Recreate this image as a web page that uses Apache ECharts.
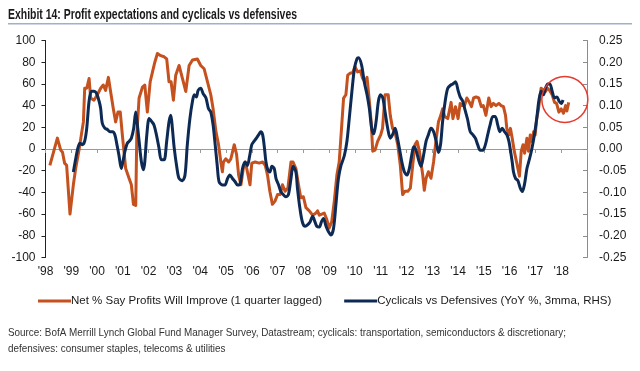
<!DOCTYPE html>
<html><head><meta charset="utf-8">
<script src="https://cdn.jsdelivr.net/npm/echarts@6/dist/echarts.min.js"></script>
<style>html,body{margin:0;padding:0;background:#fff}#c{width:640px;height:371px}</style>
</head><body><div id="c"></div>
<script>
const titleText = 'Exhibit 14: Profit expectations and cyclicals vs defensives';
const seriesNames = ['Net % Say Profits Will Improve (1 quarter lagged)', 'Cyclicals vs Defensives (YoY %, 3mma, RHS)'];
const sourceLines = [
  'Source: BofA Merrill Lynch Global Fund Manager Survey, Datastream; cyclicals: transportation, semiconductors & discretionary;',
  'defensives: consumer staples, telecoms & utilities'
];
const yearLabels = ["'98","'99","'00","'01","'02","'03","'04","'05","'06","'07","'08","'09","'10","'11","'12","'13","'14","'15","'16","'17","'18"];
const xRange = [1998, 2019];
const leftRange = [-100, 100, 20];
const rightRange = [-0.25, 0.25, 0.05];

const profitDates = [
1998.17,1998.46,1998.59,1998.66,1998.74,1998.82,1998.95,1999.08,1999.17,1999.30,
1999.39,1999.47,1999.52,1999.60,1999.69,1999.75,1999.88,2000.01,2000.14,2000.24,
2000.33,2000.44,2000.53,2000.63,2000.72,2000.81,2000.90,2000.98,2001.11,2001.24,
2001.33,2001.41,2001.50,2001.54,2001.63,2001.76,2001.85,2001.95,2002.06,2002.15,
2002.24,2002.34,2002.47,2002.60,2002.70,2002.79,2002.87,2002.96,2003.05,2003.18,
2003.31,2003.44,2003.57,2003.70,2003.89,2004.02,2004.15,2004.28,2004.41,2004.50,
2004.61,2004.71,2004.80,2004.86,2004.90,2004.99,2005.10,2005.19,2005.32,2005.41,
2005.49,2005.58,2005.67,2005.75,2005.83,2005.93,2006.00,2006.13,2006.29,2006.42,
2006.52,2006.61,2006.70,2006.80,2006.90,2007.00,2007.10,2007.19,2007.29,2007.40,
2007.52,2007.60,2007.71,2007.81,2007.90,2008.00,2008.10,2008.23,2008.36,2008.49,
2008.55,2008.62,2008.68,2008.81,2008.91,2009.00,2009.10,2009.20,2009.30,2009.39,
2009.48,2009.56,2009.65,2009.72,2009.82,2009.91,2010.00,2010.10,2010.21,2010.30,
2010.39,2010.47,2010.56,2010.63,2010.69,2010.78,2010.88,2011.00,2011.07,2011.17,
2011.24,2011.29,2011.37,2011.46,2011.55,2011.66,2011.76,2011.85,2011.94,2012.05,
2012.15,2012.24,2012.33,2012.41,2012.50,2012.56,2012.63,2012.69,2012.76,2012.85,
2012.95,2013.05,2013.14,2013.24,2013.33,2013.40,2013.48,2013.60,2013.73,2013.80,
2013.90,2014.00,2014.08,2014.16,2014.25,2014.34,2014.44,2014.52,2014.60,2014.70,
2014.80,2014.90,2014.98,2015.08,2015.19,2015.28,2015.37,2015.47,2015.58,2015.67,
2015.76,2015.84,2015.89,2015.97,2016.03,2016.10,2016.18,2016.25,2016.32,2016.38,
2016.45,2016.52,2016.58,2016.67,2016.73,2016.80,2016.87,2016.93,2016.99,2017.05,
2017.12,2017.22,2017.28,2017.39,2017.47,2017.55,2017.65,2017.74,2017.82,2017.91,
2018.00,2018.09,2018.17,2018.22,2018.29];
const profitValues = [
-15,10,-1,-3,-13,-15,-60,-33,-18,-1,
13,25,56,56,65,47,45,50,56,59,
54,66,52,37,25,34,34,13,-18,-27,
-33,-51,-52,13,47,57,59,34,62,71,
80,88,86,85,83,62,62,45,68,77,
65,53,77,82,83,77,74,62,50,37,
16,4,-12,-21,-12,-9,-12,-9,4,-5,
-24,-33,-18,-12,-21,-33,-13,-12,-13,-12,
-15,-24,-39,-51,-48,-42,-42,-33,-39,-36,
-12,-12,-18,-33,-45,-44,-54,-57,-61,-59,
-57,-61,-62,-59,-65,-73,-67,-48,-24,-12,
19,47,50,68,70,70,76,71,72,65,
62,66,44,25,-2,-1,7,13,19,50,
51,50,31,19,16,4,-15,-42,-39,-39,
-36,-15,4,7,-2,-1,-24,-38,-27,-21,
-27,-12,7,25,31,37,30,28,43,28,
39,28,42,40,40,47,43,39,47,48,
47,39,40,31,47,39,42,40,42,40,
39,31,19,13,19,10,-2,-2,-18,-25,
-2,4,-4,10,-2,13,7,16,13,28,
37,56,57,53,56,54,50,43,42,34,
37,33,40,35,43];

const cycDates = [
1999.08,1999.17,1999.26,1999.34,1999.43,1999.52,1999.60,1999.69,1999.78,1999.88,
1999.98,2000.08,2000.14,2000.20,2000.30,2000.40,2000.50,2000.60,2000.69,2000.77,
2000.85,2000.94,2001.00,2001.07,2001.17,2001.25,2001.33,2001.42,2001.50,2001.55,
2001.63,2001.72,2001.80,2001.85,2001.93,2002.02,2002.12,2002.21,2002.30,2002.40,
2002.49,2002.60,2002.70,2002.79,2002.86,2002.92,2002.99,2003.10,2003.18,2003.31,
2003.41,2003.50,2003.60,2003.70,2003.77,2003.85,2003.92,2004.02,2004.11,2004.22,
2004.32,2004.41,2004.50,2004.58,2004.66,2004.73,2004.86,2004.96,2005.06,2005.15,
2005.25,2005.35,2005.45,2005.55,2005.64,2005.74,2005.83,2005.92,2006.00,2006.09,
2006.18,2006.29,2006.35,2006.42,2006.49,2006.55,2006.62,2006.70,2006.78,2006.87,
2006.94,2007.04,2007.13,2007.22,2007.32,2007.42,2007.52,2007.60,2007.71,2007.77,
2007.87,2007.97,2008.07,2008.16,2008.26,2008.36,2008.45,2008.52,2008.62,2008.70,
2008.78,2008.88,2008.97,2009.07,2009.17,2009.27,2009.36,2009.46,2009.59,2009.69,
2009.78,2009.87,2009.98,2010.08,2010.14,2010.26,2010.36,2010.47,2010.56,2010.65,
2010.73,2010.82,2010.91,2010.99,2011.08,2011.17,2011.27,2011.37,2011.46,2011.56,
2011.64,2011.72,2011.82,2011.92,2012.02,2012.11,2012.20,2012.28,2012.37,2012.46,
2012.56,2012.66,2012.76,2012.85,2012.95,2013.05,2013.15,2013.24,2013.32,2013.40,
2013.50,2013.60,2013.73,2013.80,2013.90,2014.00,2014.08,2014.18,2014.27,2014.37,
2014.47,2014.57,2014.67,2014.76,2014.86,2014.96,2015.06,2015.15,2015.24,2015.35,
2015.44,2015.54,2015.62,2015.71,2015.80,2015.89,2015.97,2016.03,2016.10,2016.15,
2016.23,2016.32,2016.41,2016.49,2016.58,2016.67,2016.77,2016.87,2016.96,2017.05,
2017.13,2017.22,2017.31,2017.39,2017.48,2017.56,2017.65,2017.74,2017.83,2017.92,
2018.00,2018.07];
const cycValues = [
-0.053,-0.023,0.003,0.013,0.010,0.018,0.048,0.110,0.133,0.133,
0.128,0.110,0.093,0.060,0.048,0.045,0.040,0.040,0.033,0.010,
-0.015,-0.045,-0.030,-0.008,0.013,0.018,0.025,0.048,0.085,0.063,
0.018,-0.030,-0.048,-0.030,0.033,0.070,0.063,0.055,0.033,0.003,
-0.025,-0.025,0.018,0.063,0.078,0.048,0.003,-0.045,-0.068,-0.073,
-0.060,0.010,0.070,0.110,0.125,0.120,0.135,0.140,0.128,0.118,
0.093,0.085,0.055,0.010,-0.038,-0.075,-0.083,-0.083,-0.068,-0.060,
-0.068,-0.075,-0.083,-0.080,-0.045,-0.030,-0.038,-0.015,0.010,0.018,
0.025,0.035,0.040,0.033,0.003,-0.030,-0.048,-0.053,-0.040,-0.045,
-0.068,-0.083,-0.098,-0.105,-0.110,-0.105,-0.068,-0.040,-0.053,-0.090,
-0.138,-0.170,-0.178,-0.175,-0.168,-0.155,-0.168,-0.178,-0.180,-0.168,
-0.160,-0.178,-0.190,-0.198,-0.183,-0.123,-0.068,-0.038,-0.015,0.018,
0.070,0.125,0.185,0.208,0.210,0.193,0.155,0.125,0.093,0.048,
0.035,0.063,0.110,0.125,0.118,0.085,0.048,0.025,0.033,0.048,
0.028,0.003,-0.030,-0.053,-0.060,-0.045,-0.015,0.005,-0.003,-0.023,
-0.040,-0.015,0.018,0.033,0.048,0.040,0.018,-0.008,0.010,0.063,
0.110,0.140,0.148,0.150,0.155,0.135,0.120,0.110,0.090,0.068,
0.040,0.033,0.025,0.010,-0.003,-0.003,0.010,0.033,0.055,0.075,
0.075,0.055,0.040,0.048,0.040,0.033,0.018,-0.003,-0.030,-0.053,
-0.068,-0.073,-0.090,-0.098,-0.080,-0.045,-0.023,0.003,0.033,0.070,
0.110,0.133,0.125,0.140,0.150,0.150,0.133,0.118,0.120,0.110,
0.105,0.113];

const ORANGE = '#C4511E';
const NAVY = '#0D2A55';
const FONT = '"Liberation Sans", Arial, Helvetica, sans-serif';

function zip(a, b) { return a.map((d, i) => [d, b[i]]); }
function fitScale(text, font, target) {
  const ctx = document.createElement('canvas').getContext('2d');
  ctx.font = font;
  return target / ctx.measureText(text).width;
}

const chart = echarts.init(document.getElementById('c'), null, { renderer: 'canvas' });

const titleFont = 'bold 15px ' + FONT;
const titleScale = fitScale(titleText, titleFont, 289);
const srcFont = '11px ' + FONT;
const srcScale = fitScale(sourceLines[0], srcFont, 558);

const option = {
  animation: false,
  backgroundColor: '#fff',
  grid: { left: 45.5, right: 53, top: 40.5, bottom: 113.5, containLabel: false },
  legend: {
    top: 295, left: 38, width: 600, padding: 0, itemGap: 22, itemWidth: 33, itemHeight: 3, icon: 'rect',
    textStyle: { fontFamily: FONT, fontSize: 11.5, color: '#1a1a1a', padding: [0, 0, 0, -5] },
    data: seriesNames
  },
  xAxis: [
    {
      type: 'value', min: xRange[0], max: xRange[1], interval: 1, position: 'bottom',
      axisLine: { show: false, onZero: false }, axisTick: { show: false }, splitLine: { show: false },
      axisLabel: {
        margin: 8, fontFamily: FONT, fontSize: 12, color: '#1a1a1a',
        formatter: v => yearLabels[Math.round(v - xRange[0])] || ''
      }
    },
    {
      type: 'value', min: xRange[0], max: xRange[1], interval: 1, position: 'top',
      axisLine: { show: true, onZero: true, onZeroAxisIndex: 0, lineStyle: { color: '#9a9a9a', width: 1 } },
      axisTick: { show: true, inside: true, length: 4, lineStyle: { color: '#9a9a9a' } },
      axisLabel: { show: false }, splitLine: { show: false }
    }
  ],
  yAxis: [
    {
      type: 'value', min: leftRange[0], max: leftRange[1], interval: leftRange[2], position: 'left',
      axisLine: { show: true, lineStyle: { color: '#222', width: 1 } },
      axisTick: { show: true, length: 4, lineStyle: { color: '#222' } },
      splitLine: { show: false },
      axisLabel: { margin: 10, fontFamily: FONT, fontSize: 12, color: '#1a1a1a' }
    },
    {
      type: 'value', min: rightRange[0], max: rightRange[1], interval: rightRange[2], position: 'right',
      axisLine: { show: true, lineStyle: { color: '#8c8c8c', width: 1 } },
      axisTick: { show: true, inside: true, length: 4, lineStyle: { color: '#8c8c8c' } },
      splitLine: { show: false },
      axisLabel: {
        margin: 12, fontFamily: FONT, fontSize: 12, color: '#1a1a1a',
        formatter: v => (Math.abs(v) < 1e-9 ? 0 : v).toFixed(2)
      }
    }
  ],
  series: [
    {
      name: seriesNames[0], type: 'line', xAxisIndex: 0, yAxisIndex: 0,
      data: zip(profitDates, profitValues), showSymbol: false, symbol: 'none',
      lineStyle: { color: ORANGE, width: 3, join: 'round' }, itemStyle: { color: ORANGE }, z: 2
    },
    {
      name: seriesNames[1], type: 'line', xAxisIndex: 0, yAxisIndex: 1,
      data: zip(cycDates, cycValues), showSymbol: false, symbol: 'none', smooth: 0.3,
      lineStyle: { color: NAVY, width: 3, join: 'round' }, itemStyle: { color: NAVY }, z: 3
    }
  ],
  graphic: [
    { type: 'text', x: 8, y: 15, scaleX: titleScale,
      style: { text: titleText, font: titleFont, fill: '#1a1a1a', textVerticalAlign: 'middle', textBaseline: 'middle' } },
    { type: 'rect', shape: { x: 8, y: 23, width: 624, height: 1.5 }, style: { fill: '#9fb0c9' } },
    { type: 'text', x: 8, y: 333, scaleX: srcScale,
      style: { text: sourceLines[0], font: srcFont, fill: '#333', textVerticalAlign: 'middle', textBaseline: 'middle' } },
    { type: 'text', x: 8, y: 349, scaleX: srcScale,
      style: { text: sourceLines[1], font: srcFont, fill: '#333', textVerticalAlign: 'middle', textBaseline: 'middle' } }
  ]
};
chart.setOption(option);

// annotation circle placed in data coordinates (around the latest readings)
const center = chart.convertToPixel({ xAxisIndex: 0, yAxisIndex: 1 }, [2018.14, 0.114]);
chart.setOption({
  graphic: option.graphic.concat([
    { type: 'circle', shape: { cx: center[0], cy: center[1], r: 23 },
      style: { fill: 'none', stroke: '#E53A2F', lineWidth: 1.5 }, z: 10 }
  ])
});
</script>
</body></html>
